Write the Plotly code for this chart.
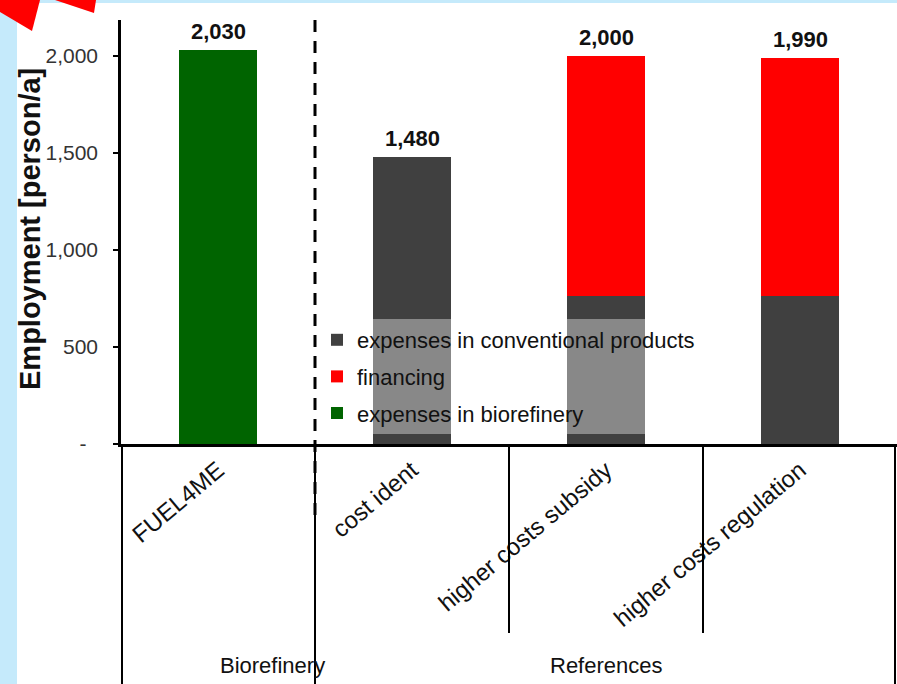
import plotly.graph_objects as go

# Categories and employment values [person/a]
categories = ["FUEL4ME", "cost ident", "higher costs subsidy", "higher costs regulation"]
biorefinery = [2030, 0, 0, 0]
conventional = [0, 1480, 765, 765]
financing = [0, 0, 1235, 1225]
groups = ["Biorefinery", "References"]
group_spans = [(0, 0), (1, 3)]
y_ticks = [0, 500, 1000, 1500, 2000]
y_tick_text = ["-\u00a0\u00a0", "500", "1,000", "1,500", "2,000"]

FONT = "Liberation Sans, Arial, sans-serif"
W, H = 897, 684
L, R, T, B = 121, 0, 20, 240
PW, PH = W - L - R, H - T - B
Y_MAX = 2185


def xp(px):
    return (px - L) / PW


def yp(py):
    return (H - B - py) / PH


def cat_edge(i):
    # paper x of a boundary at category position i (e.g. 0.5)
    return (i + 0.5) / len(categories)


fig = go.Figure()
fig.add_trace(go.Bar(x=categories, y=conventional, name="expenses in conventional products",
                     marker_color="#404040", legendrank=1, legendgroup="a"))
fig.add_trace(go.Bar(x=categories, y=financing, name="financing",
                     marker_color="#FF0000", legendrank=2, legendgroup="b"))
fig.add_trace(go.Bar(x=categories, y=biorefinery, name="expenses in biorefinery",
                     marker_color="#006400", legendrank=3, legendgroup="c"))
for tr in fig.data:
    tr.marker.line.width = 0

totals = [b + c + f for b, c, f in zip(biorefinery, conventional, financing)]
for cat, tot in zip(categories, totals):
    fig.add_annotation(x=cat, y=tot, text=f"<b>{tot:,}</b>", showarrow=False, yanchor="bottom",
                       yshift=4, font=dict(family=FONT, size=22, color="#111111"))

# axis title placed explicitly
fig.add_annotation(xref="paper", yref="paper", x=xp(30), y=yp(229), textangle=-90,
                   text="<b>Employment [person/a]</b>", showarrow=False,
                   xanchor="center", yanchor="middle",
                   font=dict(family=FONT, size=29, color="#111111"))

shapes = []
blue = "#C5EAFB"
# light blue frame strips and the red arrow in the corner
shapes.append(dict(type="rect", xref="paper", yref="paper", x0=xp(0), x1=xp(17),
                   y0=yp(H), y1=yp(0), fillcolor=blue, line_width=0, layer="below"))
shapes.append(dict(type="rect", xref="paper", yref="paper", x0=xp(0), x1=xp(W),
                   y0=yp(3), y1=yp(0), fillcolor=blue, line_width=0, layer="below"))
arrow1 = [(0, 0), (40, 0), (32, 31), (0, 12)]
arrow2 = [(55, 0), (96, 0), (94, 13)]
for poly in (arrow1, arrow2):
    path = "M " + " L ".join(f"{xp(a)},{yp(b)}" for a, b in poly) + " Z"
    shapes.append(dict(type="path", xref="paper", yref="paper", path=path,
                       fillcolor="#FF0000", line_width=0))

# dashed separator between Biorefinery and References
sep = cat_edge(0.5)
shapes.append(dict(type="line", xref="paper", yref="paper", x0=sep, x1=sep, y0=1.0, y1=yp(515),
                   line=dict(color="black", width=3, dash="12px,9px")))
# group frame lines below the axis
for pos, bottom in [(-0.5, H), (0.5, H), (1.5, 633), (2.5, 633), (3.5, H)]:
    xx = cat_edge(pos)
    if pos == 3.5:
        xx = xp(895)
    if pos == -0.5:
        xx = xp(122)
    shapes.append(dict(type="line", xref="paper", yref="paper", x0=xx, x1=xx, y0=0, y1=yp(bottom),
                       line=dict(color="black", width=2)))
fig.update_layout(shapes=shapes)

for name, (a, b) in zip(groups, group_spans):
    fig.add_annotation(xref="paper", yref="paper", x=(cat_edge(a - 0.5) + cat_edge(b + 0.5)) / 2,
                       y=yp(665), text=name, showarrow=False, yanchor="middle",
                       font=dict(family=FONT, size=22, color="#111111"))

fig.update_layout(
    width=W, height=H, margin=dict(l=L, r=R, t=T, b=B),
    paper_bgcolor="white", plot_bgcolor="white",
    barmode="stack", bargap=0.6,
    font=dict(family=FONT, color="#222222"),
    showlegend=True,
    legend=dict(x=xp(317), y=yp(319), xanchor="left", yanchor="top",
                bgcolor="rgba(255,255,255,0.38)", borderwidth=0,
                font=dict(family=FONT, size=22, color="#111111"),
                tracegroupgap=5, traceorder="grouped"),
    xaxis=dict(type="category", range=[-0.5, 3.5], showline=True, linecolor="black", linewidth=2.5,
               ticks="", tickangle=-40, tickfont=dict(family=FONT, size=24, color="#111111"),
               showgrid=False, zeroline=False, fixedrange=True),
    yaxis=dict(range=[0, Y_MAX], tickvals=y_ticks, ticktext=y_tick_text, showline=True,
               linecolor="black", linewidth=2.5, ticks="outside", ticklen=5, tickwidth=2,
               tickcolor="black", ticklabelstandoff=11,
               tickfont=dict(family=FONT, size=21, color="#333333"),
               showgrid=False, zeroline=False),
)

fig.write_html("out.html")
